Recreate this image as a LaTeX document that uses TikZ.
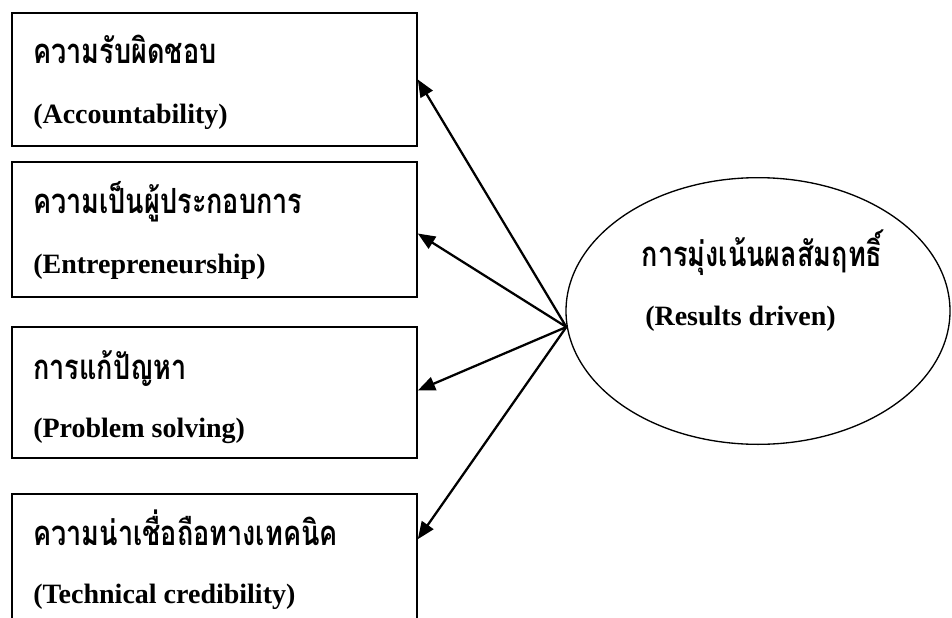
\documentclass[tikz,border=0pt]{standalone}
\usepackage{fontspec}
\setmainfont{Liberation Serif}
\newfontfamily\thaifont[Script=Thai,FakeStretch=0.78]{Loma}
\usetikzlibrary{arrows.meta,calc,shapes.geometric}
\begin{document}
\begin{tikzpicture}[x=0.75pt,y=-0.75pt,
  box/.style={draw,line width=1.2pt,rectangle,minimum width=303.75pt,inner sep=0pt},
  th/.style={anchor=base west,inner sep=0pt,font=\thaifont\bfseries\fontsize{26}{30}\selectfont},
  en/.style={anchor=base west,inner sep=0pt,font=\bfseries\fontsize{21}{25}\selectfont},
  arr/.style={line width=1.7pt,-{Triangle[length=13pt,width=10.5pt]}}]
\clip (0,0) rectangle (952,617);
\fill[white] (0,0) rectangle (952,617);
% four indicator boxes
\node[box,minimum height=99.75pt] (b1) at (214.5,79.5) {};
\node[box,minimum height=101.25pt] (b2) at (214.5,229.5) {};
\node[box,minimum height=98.25pt] (b3) at (214.5,392.5) {};
\node[box,minimum height=102pt] (b4) at (214.5,562) {};
% construct ellipse
\node[draw,ellipse,line width=1pt,minimum width=288pt,minimum height=200pt,inner sep=0pt] (re) at (758,311) {};
% labels
\node[th] (t1) at (33,64) {ความรับผิดชอบ};
\node[en] (e1) at (33,123) {(Accountability)};
\node[th] (t2) at (33,213) {ความเป็นผู้ประกอบการ};
\node[en] (e2) at (33,273) {(Entrepreneurship)};
\node[th] (t3) at (33,379) {การแก้ปัญหา};
\node[en] (e3) at (33,437) {(Problem solving)};
\node[th] (t4) at (33,545) {ความน่าเชื่อถือทางเทคนิค};
\node[en] (e4) at (33,603) {(Technical credibility)};
\node[th,anchor=base] (tr) at (762,266) {การมุ่งเน้นผลสัมฤทธิ์};
\node[en] (er) at (645,325) {(Results driven)};
% arrows from the construct to each box
\coordinate (hub) at ($(re.west)+(1,16)$);
\coordinate (b4in) at ($(b4.north east)+(0,46)$);
\draw[arr] (hub) -- (b1.east);
\draw[arr] (hub) -- ($(b2.east)+(0,4)$);
\draw[arr] (hub) -- ($(b3.east)+(0,-2)$);
\draw[arr] (hub) -- (b4in);
\end{tikzpicture}
\end{document}
